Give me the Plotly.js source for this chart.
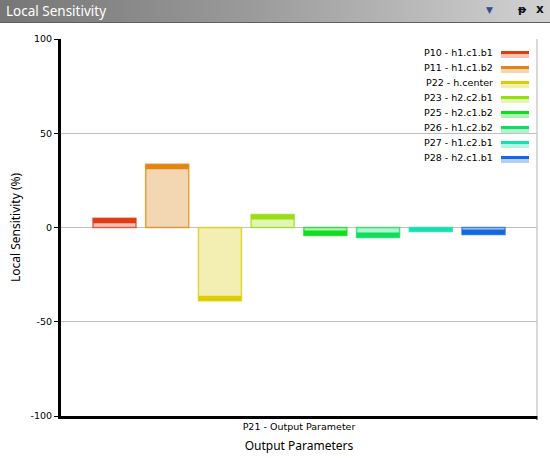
<!DOCTYPE html>
<html>
<head>
<meta charset="utf-8">
<script src="https://cdn.plot.ly/plotly-3.0.1.min.js"></script>
<style>
  html, body { margin:0; padding:0; background:#ffffff; }
  #wrap { position:relative; width:550px; height:458px; overflow:hidden; }
  #hdr { position:absolute; left:0; top:0; width:550px; height:22px;
         background:linear-gradient(to right, #767676 0%, #9a9a9a 45%, #d2d2d2 100%);
         border-bottom:1px solid #5e5e5e; z-index:5; }
  #hdr .t { position:absolute; left:6px; top:2px; color:#ffffff; font-family:"Noto Sans", sans-serif; font-size:13.5px; }
  #hdr .i1 { position:absolute; left:486px; top:5px; color:#2f4f8f; font-family:"DejaVu Sans"; font-size:9px; }
  #hdr .i2 { position:absolute; left:518px; top:3px; color:#111; font-family:"DejaVu Sans"; font-size:11px; font-weight:bold; }
  #hdr .i3 { position:absolute; left:536px; top:2px; color:#111; font-family:"DejaVu Sans"; font-size:12px; font-weight:bold; }
  #chart { position:absolute; left:0; top:0; width:550px; height:458px; }
</style>
</head>
<body>
<div id="wrap">
  <div id="chart"></div>
  <div id="hdr"><span class="t">Local Sensitivity</span><span class="i1">▼</span><span class="i2">ᵽ</span><span class="i3">x</span></div>
</div>
<script>
// ---- data ----
const categories = ['P21 - Output Parameter'];
const seriesNames = ['P10 - h1.c1.b1', 'P11 - h1.c1.b2', 'P22 - h.center', 'P23 - h2.c2.b1',
                     'P25 - h2.c1.b2', 'P26 - h1.c2.b2', 'P27 - h1.c2.b1', 'P28 - h2.c1.b1'];
const seriesValues = [4.9, 33.5, -38.9, 6.9, -4.2, -5.3, -2.1, -3.7];
const solidColors = ['#e23a12', '#e2860e', '#ddcb08', '#98de10', '#10dd1e', '#10dd5e', '#12e2b0', '#1268dc'];
const lightColors = ['#f6c3b6', '#f3d7b3', '#f3efb2', '#e1f6b3', '#b2f2b6', '#b2f2cc', '#b6f4e4', '#b4cff2'];
const yTicks = [-100, -50, 0, 50, 100];

// ---- style constants ----
const BAND = 2.65;            // thickness of the solid end band (axis units)
const L = 61, R = 537, T = 39, B = 416, W = 550, H = 458;
const xp = px => (px - L) / (R - L);
const yp = py => (B - py) / (B - T);

function hexA(hex, a) {
  const n = parseInt(hex.slice(1), 16);
  return `rgba(${(n >> 16) & 255},${(n >> 8) & 255},${n & 255},${a})`;
}

const traces = [];
seriesValues.forEach((v, i) => {
  const s = v >= 0 ? 1 : -1;
  const bh = Math.min(Math.abs(v), BAND);
  traces.push({
    type: 'bar', x: categories, y: [v], name: seriesNames[i], offsetgroup: 'g' + i,
    marker: { color: lightColors[i], line: { color: hexA(solidColors[i], 0.75), width: 1.5 } },
    showlegend: false, hoverinfo: 'skip'
  });
  traces.push({
    type: 'bar', x: categories, y: [s * bh], base: [v - s * bh], name: seriesNames[i], offsetgroup: 'g' + i,
    marker: { color: solidColors[i], line: { width: 0 } },
    showlegend: false, hoverinfo: 'skip'
  });
});

const annotations = [];
const shapes = [];
seriesNames.forEach((nm, i) => {
  const yc = 52.3 + 15 * i;
  annotations.push({
    xref: 'paper', yref: 'paper', x: xp(495), y: yp(yc), xanchor: 'right', yanchor: 'middle',
    text: nm, showarrow: false, font: { family: 'DejaVu Sans', size: 9.5, color: '#000' }
  });
  shapes.push({ type: 'rect', xref: 'paper', yref: 'paper', x0: xp(501), x1: xp(529),
    y0: yp(yc - 1.3), y1: yp(yc + 1.7), fillcolor: solidColors[i], line: { width: 0 } });
  shapes.push({ type: 'rect', xref: 'paper', yref: 'paper', x0: xp(501), x1: xp(529),
    y0: yp(yc + 1.7), y1: yp(yc + 5.7), fillcolor: lightColors[i], line: { width: 0 } });
});
// right border of plot area
shapes.push({ type: 'line', xref: 'paper', yref: 'paper', x0: 1, x1: 1, y0: 0, y1: 1,
  line: { color: '#c0c0c0', width: 1.2 } });
// small end tick of the bottom axis
shapes.push({ type: 'line', xref: 'paper', yref: 'paper', x0: 1, x1: 1, y0: yp(416), y1: yp(420),
  line: { color: '#000', width: 1 } });

const layout = {
  width: W, height: H,
  margin: { l: L, r: W - R, t: T, b: H - B, pad: 0 },
  paper_bgcolor: '#ffffff', plot_bgcolor: '#ffffff',
  barmode: 'group', bargap: 0.114, bargroupgap: 0.184,
  showlegend: false,
  font: { family: 'DejaVu Sans', size: 9.5, color: '#000' },
  xaxis: {
    type: 'category', range: [-0.5, 0.5], showgrid: false, zeroline: false,
    showline: true, linecolor: '#000', linewidth: 3, ticks: '',
    tickfont: { family: 'DejaVu Sans', size: 9.5, color: '#000' },
    title: { text: 'Output Parameters', font: { family: 'Noto Sans', size: 12, color: '#000' }, standoff: 11 }
  },
  yaxis: {
    range: [-100, 100], tickvals: yTicks, ticktext: yTicks.map(String),
    showgrid: true, gridcolor: '#c0c0c0', gridwidth: 1,
    zeroline: true, zerolinecolor: '#c0c0c0', zerolinewidth: 1.2,
    showline: true, linecolor: '#000', linewidth: 3,
    ticks: 'outside', ticklen: 4, tickcolor: '#000', tickwidth: 1,
    tickfont: { family: 'DejaVu Sans', size: 9.5, color: '#000' },
    title: { text: 'Local Sensitivity (%)', font: { family: 'Noto Sans', size: 12, color: '#000' }, standoff: 8 }
  },
  annotations: annotations,
  shapes: shapes
};

Plotly.newPlot('chart', traces, layout, { staticPlot: true, displayModeBar: false });
</script>
</body>
</html>
